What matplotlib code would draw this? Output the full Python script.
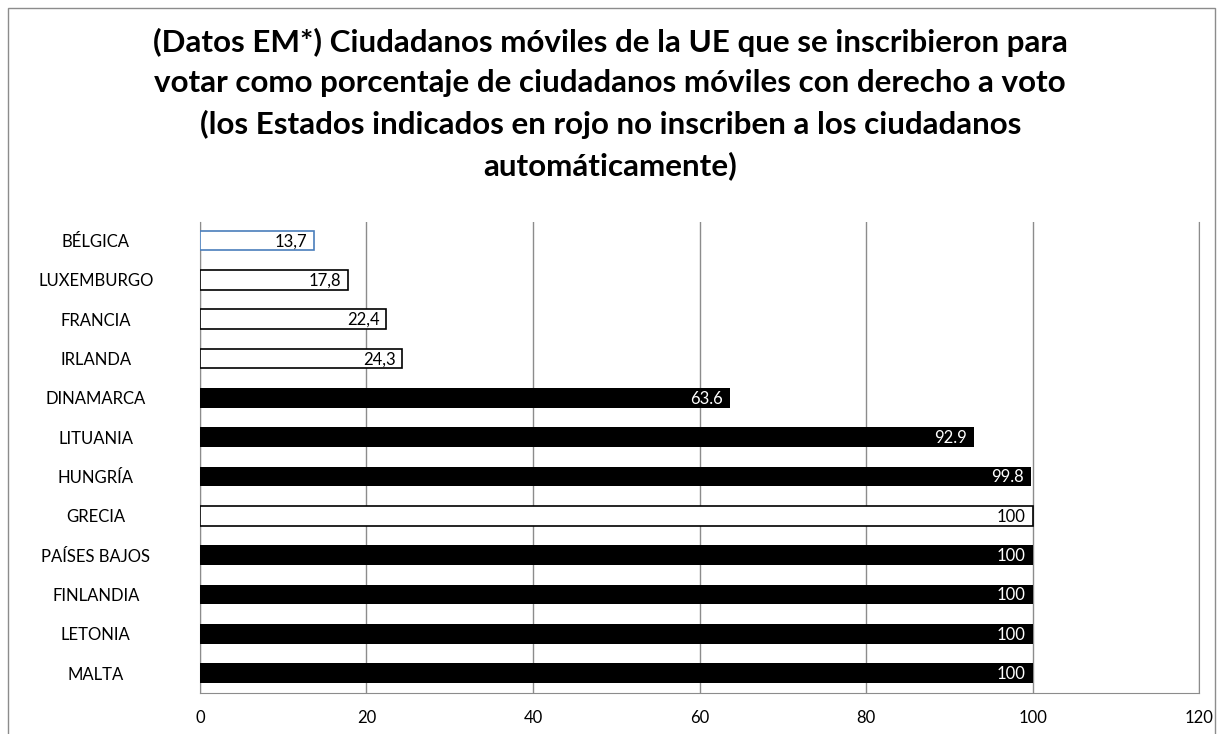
import matplotlib
matplotlib.use('Agg')
import matplotlib.pyplot as plt
from matplotlib.patches import Rectangle

countries = ['BÉLGICA', 'LUXEMBURGO', 'FRANCIA', 'IRLANDA', 'DINAMARCA', 'LITUANIA',
             'HUNGRÍA', 'GRECIA', 'PAÍSES BAJOS', 'FINLANDIA', 'LETONIA', 'MALTA']
values = [13.7, 17.8, 22.4, 24.3, 63.6, 92.9, 99.8, 100, 100, 100, 100, 100]
labels = ['13,7', '17,8', '22,4', '24,3', '63.6', '92.9', '99.8', '100', '100', '100', '100', '100']
# True = state that does not register citizens automatically (white bar)
not_auto = [True, True, True, True, False, False, False, True, False, False, False, False]
xticks = [0, 20, 40, 60, 80, 100, 120]

title = ('(Datos EM*) Ciudadanos móviles de la UE que se inscribieron para\n'
         'votar como porcentaje de ciudadanos móviles con derecho a voto\n'
         '(los Estados indicados en rojo no inscriben a los ciudadanos\n'
         'automáticamente)')

plt.rcParams['font.family'] = ['Lato', 'DejaVu Sans']

fig = plt.figure(figsize=(12.23, 7.34), dpi=100)
ax = fig.add_axes([0.1635, 0.056, 0.817, 0.642])

# outer chart border
fig.patches.append(Rectangle((8 / 1223, -0.1), 1207 / 1223, 1.1 - 8 / 734,
                             transform=fig.transFigure, fill=False,
                             edgecolor='#8c8c8c', linewidth=1))

pos = list(range(len(countries)))
for i, (v, lab, na) in enumerate(zip(values, labels, not_auto)):
    if na:
        edge = '#4a7ebb' if i == 0 else 'black'
        ax.barh(i, v, height=0.5, color='white', edgecolor=edge, linewidth=1.2, zorder=3)
        tc = 'black'
    else:
        ax.barh(i, v, height=0.5, color='black', edgecolor='black', linewidth=0, zorder=3)
        tc = 'white'
    ax.text(v - 0.8, i + 0.02, lab, ha='right', va='center', color=tc, fontsize=12, zorder=4)

ax.set_ylim(len(countries) - 0.5, -0.48)
ax.set_xlim(0, 120)
ax.set_xticks(xticks)
ax.set_xticklabels([str(t) for t in xticks], fontsize=12)
ax.set_yticks(pos)
ax.set_yticklabels(countries, fontsize=12, ha='center')
ax.tick_params(axis='y', length=0, pad=75)
ax.tick_params(axis='x', length=0, pad=12)
ax.xaxis.grid(True, color='#8c8c8c', linewidth=1, zorder=0)
ax.set_axisbelow(True)
for s in ['left', 'right', 'bottom']:
    ax.spines[s].set_color('#8c8c8c')
ax.spines['top'].set_visible(False)

fig.text(0.499, 0.962, title, ha='center', va='top', fontsize=22.6, fontweight='bold',
         linespacing=1.52)

fig.savefig('out.png', dpi=100)
